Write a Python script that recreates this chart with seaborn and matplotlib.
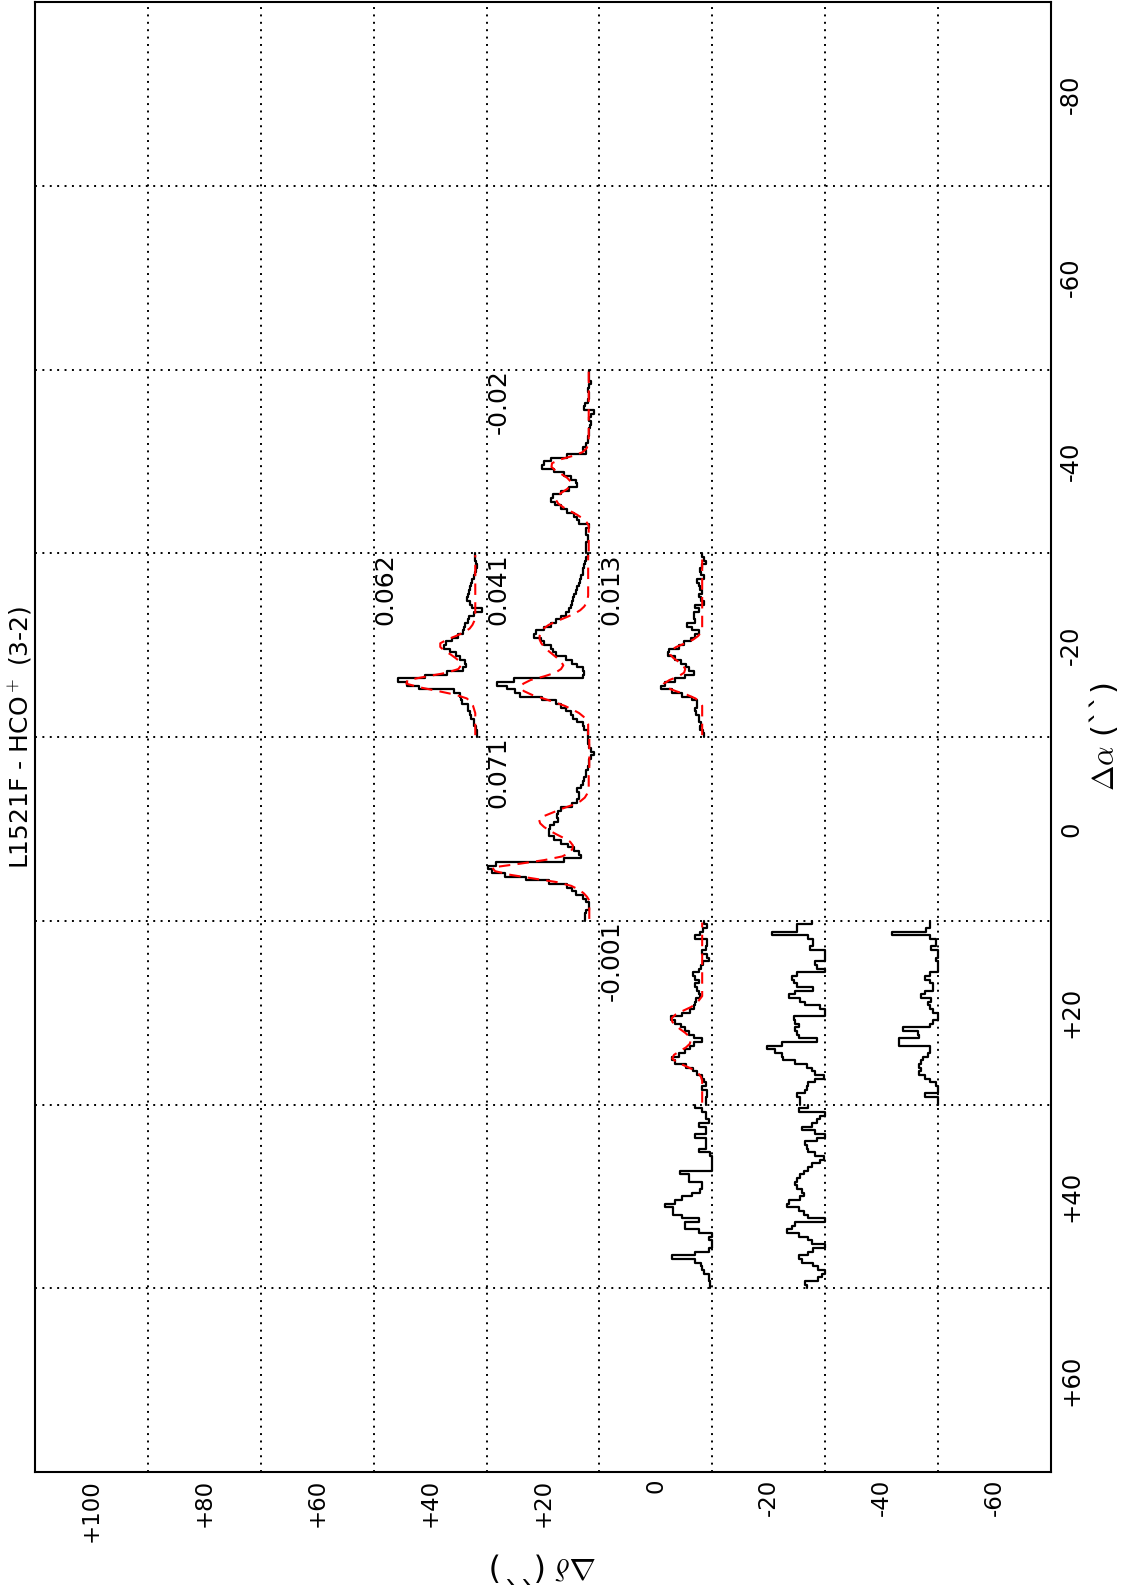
import numpy as np
import matplotlib
matplotlib.use("Agg")
import matplotlib.pyplot as plt
import seaborn as sns

# ------------------------------------------------------------------ data
title = r"L1521F - HCO$^+$ (3-2)"
xlabel_text = r"$\Delta\delta$ (``)"
ylabel_text = r"$\Delta\alpha$ (``)"

delta_ticks = [100, 80, 60, 40, 20, 0, -20, -40, -60]
delta_ticklabels = ["+100", "+80", "+60", "+40", "+20", "0", "-20", "-40", "-60"]
alpha_ticks = [-80, -60, -40, -20, 0, 20, 40, 60]
alpha_ticklabels = ["-80", "-60", "-40", "-20", "0", "+20", "+40", "+60"]
grid_delta = [90, 70, 50, 30, 10, -10, -30, -50]
grid_alpha = [-70, -50, -30, -10, 10, 30, 50]

# map offsets of each spectrum (arcsec)
pos_alpha = [0, -20, -20, -20, -40, 20, 40, 20, 40, 20]
pos_delta = [20, 40, 20, 0, 20, 0, 0, -20, -20, -40]
spec_labels = ["0.071", "0.062", "0.041", "0.013", "-0.02", "-0.001",
               None, None, None, None]

# spectra (T, K) per channel, low -> high velocity
spec_01 = [0.06, 0.06, 0.04, -0.02, -0.01, 0.04, 0.10, 0.21, 0.29, 0.37,
           0.69, 1.11, 1.47, 1.70, 1.78, 1.64, 0.42, 0.13, 0.16, 0.25,
           0.35, 0.48, 0.60, 0.69, 0.70, 0.67, 0.60, 0.54, 0.56, 0.54,
           0.48, 0.28, 0.19, 0.16, 0.17, 0.19, 0.13, 0.10, 0.07, 0.04,
           0.04, 0.01, -0.01, -0.02, -0.05, -0.11, -0.05, -0.02, 0.01, 0.01]
spec_02 = [-0.03, -0.03, -0.01, 0.03, 0.03, 0.07, 0.09, 0.12, 0.12, 0.24,
           0.25, 0.27, 0.38, 1.00, 1.21, 1.37, 0.89, 0.50, 0.21, 0.16,
           0.18, 0.27, 0.34, 0.44, 0.56, 0.52, 0.41, 0.31, 0.22, 0.20,
           0.18, 0.13, 0.11, 0.03, -0.12, 0.06, 0.09, 0.15, 0.12, 0.11,
           0.09, 0.07, 0.06, 0.03, 0.00, -0.01, -0.03, -0.01, 0.01, 0.00]
spec_03 = [0.01, 0.01, 0.07, 0.10, 0.19, 0.26, 0.31, 0.40, 0.48, 0.57,
           0.81, 1.20, 1.29, 1.44, 1.61, 1.32, 0.10, 0.07, 0.10, 0.19,
           0.28, 0.40, 0.57, 0.63, 0.66, 0.78, 0.84, 0.96, 0.93, 0.78,
           0.66, 0.57, 0.48, 0.40, 0.34, 0.31, 0.28, 0.26, 0.25, 0.22,
           0.19, 0.16, 0.15, 0.13, 0.10, 0.10, 0.07, 0.05, 0.04, 0.01]
spec_04 = [-0.05, -0.03, 0.01, 0.00, 0.03, 0.04, 0.09, 0.10, 0.07, 0.07,
           0.16, 0.33, 0.51, 0.71, 0.64, 0.46, 0.28, 0.13, 0.21, 0.27,
           0.35, 0.47, 0.59, 0.57, 0.39, 0.31, 0.17, 0.10, 0.04, 0.16,
           0.25, 0.10, 0.13, 0.12, 0.04, 0.10, -0.05, 0.00, 0.04, -0.02,
           0.01, 0.04, 0.07, -0.05, 0.00, 0.01, -0.02, -0.08, -0.05, -0.02]
spec_05 = [0.04, 0.04, 0.04, 0.01, 0.01, 0.04, 0.03, -0.02, 0.16, 0.19,
           0.25, 0.38, 0.48, 0.59, 0.66, 0.63, 0.48, 0.34, 0.19, 0.22,
           0.31, 0.42, 0.60, 0.81, 0.78, 0.66, 0.37, 0.04, 0.10, 0.03,
           0.01, 0.01, -0.01, -0.02, -0.03, -0.05, -0.02, -0.05, -0.11, 0.07,
           0.05, 0.01, -0.02, -0.01, 0.01, -0.02, -0.05, -0.02, -0.01, -0.02]
spec_06 = [-0.08, -0.08, -0.11, -0.11, -0.02, -0.08, -0.06, -0.02, 0.07, 0.15,
           0.27, 0.47, 0.51, 0.39, 0.28, 0.19, 0.13, -0.02, 0.12, 0.21,
           0.29, 0.35, 0.46, 0.53, 0.33, 0.19, 0.12, 0.10, 0.09, 0.01,
           0.03, 0.07, 0.10, 0.04, 0.10, 0.15, 0.04, 0.00, -0.03, -0.14,
           -0.11, -0.02, -0.08, -0.11, -0.11, 0.10, 0.01, -0.03, -0.11, -0.05]
spec_07 = [-0.16, -0.16, -0.14, -0.14, -0.05, -0.02, 0.00, 0.10, 0.52, 0.10,
           -0.14, -0.25, -0.25, -0.14, -0.25, 0.04, 0.28, 0.28, 0.04, 0.33,
           0.49, 0.49, 0.64, 0.46, 0.34, 0.16, 0.01, -0.02, -0.02, 0.22,
           0.22, 0.37, -0.25, -0.25, -0.25, -0.25, -0.16, 0.04, -0.08, -0.08,
           -0.08, 0.10, -0.08, -0.08, 0.04, -0.14, -0.08, -0.08, -0.02, 0.10]
spec_08 = [0.24, 0.24, 0.30, 0.15, 0.12, 0.10, -0.02, -0.17, -0.02, 0.04,
           0.12, 0.33, 0.54, 0.57, 0.69, 0.83, 0.57, -0.05, 0.27, 0.30,
           0.33, 0.27, 0.33, 0.36, -0.25, -0.25, -0.11, 0.15, 0.24, 0.45,
           0.33, 0.01, 0.30, 0.36, 0.39, 0.30, -0.25, -0.05, -0.02, -0.25,
           -0.25, -0.25, 0.07, 0.01, 0.01, 0.10, 0.74, 0.30, 0.30, 0.04]
spec_09 = [0.12, 0.15, -0.08, -0.14, -0.25, -0.08, 0.01, 0.21, 0.27, 0.10,
           0.01, -0.25, 0.04, 0.10, 0.27, 0.48, 0.39, 0.33, -0.25, 0.10,
           0.18, 0.27, 0.48, 0.45, 0.24, 0.18, 0.21, 0.30, 0.33, 0.30,
           0.24, 0.18, 0.10, 0.04, -0.11, -0.17, -0.02, 0.10, 0.12, 0.15,
           -0.05, -0.25, -0.02, 0.21, 0.04, -0.05, -0.11, -0.25, 0.27, 0.10]
spec_10 = [-0.25, -0.25, 0.04, -0.25, -0.25, -0.16, -0.05, 0.04, 0.13, 0.10,
           0.13, 0.10, 0.07, -0.02, -0.05, -0.05, 0.49, 0.49, 0.13, 0.16,
           0.43, -0.05, -0.11, -0.25, -0.25, -0.11, -0.05, -0.02, -0.08, 0.10,
           0.04, -0.11, -0.11, -0.05, 0.04, -0.05, -0.25, -0.25, -0.19, -0.16,
           -0.25, -0.25, -0.08, -0.16, -0.16, -0.05, 0.61, 0.01, -0.05, -0.05]

# model fits (T, K) at channel centres
fit_01 = [-0.02, -0.02, -0.02, -0.02, -0.02, -0.02, 0.02, 0.08, 0.17, 0.30,
          0.55, 0.97, 1.38, 1.65, 1.70, 1.22, 0.78, 0.46, 0.33, 0.28,
          0.27, 0.32, 0.43, 0.56, 0.68, 0.78, 0.85, 0.87, 0.78, 0.62,
          0.46, 0.28, 0.14, 0.06, 0.02, -0.01, -0.01, -0.01, -0.01, -0.01,
          -0.02, -0.02, -0.02, -0.02, -0.02, -0.02, -0.02, -0.02, -0.02, -0.02]
fit_02 = [0.00, 0.00, 0.00, 0.00, 0.00, 0.00, 0.00, 0.02, 0.04, 0.08,
          0.15, 0.35, 0.66, 0.98, 1.22, 1.20, 0.85, 0.50, 0.30, 0.25,
          0.27, 0.35, 0.44, 0.55, 0.62, 0.62, 0.50, 0.34, 0.20, 0.10,
          0.05, 0.02, 0.00, 0.00, 0.00, 0.00, 0.00, 0.00, 0.00, 0.00,
          0.00, 0.00, 0.00, 0.00, 0.00, 0.00, 0.00, 0.00, 0.00, 0.00]
fit_03 = [0.00, 0.00, 0.00, 0.00, 0.03, 0.08, 0.16, 0.28, 0.42, 0.60,
          0.80, 1.00, 1.14, 1.20, 1.15, 1.02, 0.78, 0.58, 0.48, 0.44,
          0.48, 0.55, 0.63, 0.71, 0.78, 0.83, 0.86, 0.86, 0.84, 0.79,
          0.70, 0.56, 0.40, 0.25, 0.14, 0.07, 0.03, 0.01, 0.00, 0.00,
          0.00, 0.00, 0.00, 0.00, 0.00, 0.00, 0.00, 0.00, 0.00, 0.00]
fit_04 = [-0.02, -0.02, -0.02, -0.02, -0.02, -0.02, -0.02, -0.02, -0.02, 0.02,
          0.10, 0.25, 0.45, 0.62, 0.66, 0.56, 0.40, 0.30, 0.28, 0.32,
          0.40, 0.49, 0.55, 0.54, 0.44, 0.28, 0.14, 0.05, 0.00, -0.02,
          -0.02, -0.02, -0.02, -0.02, -0.02, -0.02, -0.02, -0.02, -0.02, -0.02,
          -0.02, -0.02, -0.02, -0.02, -0.02, -0.02, -0.02, -0.02, -0.02, -0.02]
fit_05 = [-0.01, -0.01, -0.01, -0.01, -0.01, -0.01, -0.01, -0.01, 0.03, 0.10,
          0.20, 0.32, 0.44, 0.53, 0.57, 0.55, 0.47, 0.37, 0.31, 0.31,
          0.37, 0.47, 0.58, 0.65, 0.64, 0.50, 0.27, 0.10, 0.03, 0.00,
          -0.01, -0.01, -0.01, -0.01, -0.01, -0.01, -0.01, -0.01, -0.01, -0.01,
          -0.01, -0.01, -0.01, -0.01, -0.01, -0.01, -0.01, -0.01, -0.01, -0.01]
fit_06 = [-0.02, -0.02, -0.02, -0.02, -0.02, -0.02, -0.02, 0.00, 0.05, 0.14,
          0.28, 0.43, 0.51, 0.48, 0.38, 0.27, 0.20, 0.18, 0.21, 0.28,
          0.37, 0.45, 0.51, 0.52, 0.45, 0.32, 0.18, 0.08, 0.03, -0.02,
          -0.02, -0.02, -0.02, -0.02, -0.02, -0.02, -0.02, -0.02, -0.02, -0.02,
          -0.02, -0.02, -0.02, -0.02, -0.02, -0.02, -0.02, -0.02, -0.02, -0.02]

spectra = [spec_01, spec_02, spec_03, spec_04, spec_05,
           spec_06, spec_07, spec_08, spec_09, spec_10]
fits = [fit_01, fit_02, fit_03, fit_04, fit_05, fit_06,
        None, None, None, None]

# ------------------------------------------------------------------ style
CELL = 20.0      # map cell size (arcsec)
BASE = 2.0       # baseline offset inside a cell (arcsec)
SCALE = 10.0     # arcsec per K

sns.set_theme(style="white")
plt.rcParams["font.family"] = ["DejaVu Sans"]
plt.rcParams["mathtext.fontset"] = "cm"

W, H = 1122, 1595
fig = plt.figure(figsize=(W / 100, H / 100), dpi=100, facecolor="white")
ax = fig.add_axes([35 / W, 1 - 1472 / H, (1051 - 35) / W, (1472 - 2) / H])
ax.set_facecolor("white")

half = CELL / 2
for k, T in enumerate(spectra):
    T = np.asarray(T, dtype=float)
    a0, d0 = pos_alpha[k], pos_delta[k]
    n = len(T)
    edges = a0 + half - CELL * np.arange(n + 1) / n
    centres = a0 + half - CELL * (np.arange(n) + 0.5) / n
    xpos = np.maximum(d0 - half + BASE + SCALE * T, d0 - half)
    xs = np.append(xpos, xpos[-1])
    sns.lineplot(x=xs, y=edges, sort=False, estimator=None, ax=ax,
                 drawstyle="steps-pre", color="black", lw=1.6)
    if fits[k] is not None:
        F = np.asarray(fits[k], dtype=float)
        fx = d0 - half + BASE + SCALE * F
        sns.lineplot(x=fx, y=centres, sort=False, estimator=None, ax=ax,
                     color="red", lw=1.5, linestyle=(0, (5.5, 3.5)))
    if spec_labels[k] is not None:
        ax.text(d0 + half, a0 - half, spec_labels[k], rotation=90,
                ha="left", va="top", fontsize=18, color="black")

ax.set_xlim(110, -70)
ax.set_ylim(70, -90)

ax.set_xticks(delta_ticks)
ax.set_xticklabels(delta_ticklabels, rotation=90, fontsize=16.5)
ax.set_xticks(grid_delta, minor=True)
ax.yaxis.tick_right()
ax.set_yticks(alpha_ticks)
ax.set_yticklabels(alpha_ticklabels, rotation=90, fontsize=17.5, va="center")
ax.set_yticks(grid_alpha, minor=True)
ax.tick_params(which="both", length=0)
ax.tick_params(axis="x", pad=5, colors="black")
ax.tick_params(axis="y", pad=6, colors="black")

ax.grid(False, which="major")
ax.grid(True, which="minor", color="black", lw=1.4, linestyle=(0, (1, 2.8)))

for s in ax.spines.values():
    s.set_color("black")
    s.set_linewidth(1.5)

ax.set_xlabel(xlabel_text, rotation=180, fontsize=23, labelpad=6, color="black")
ax.yaxis.set_label_position("right")
ax.set_ylabel(ylabel_text, rotation=90, fontsize=22, labelpad=3, color="black")

fig.text(20 / W, 1 - 737 / H, title, rotation=90, ha="center", va="center",
         fontsize=18, color="black")

fig.savefig("out.png", dpi=100, facecolor="white")
